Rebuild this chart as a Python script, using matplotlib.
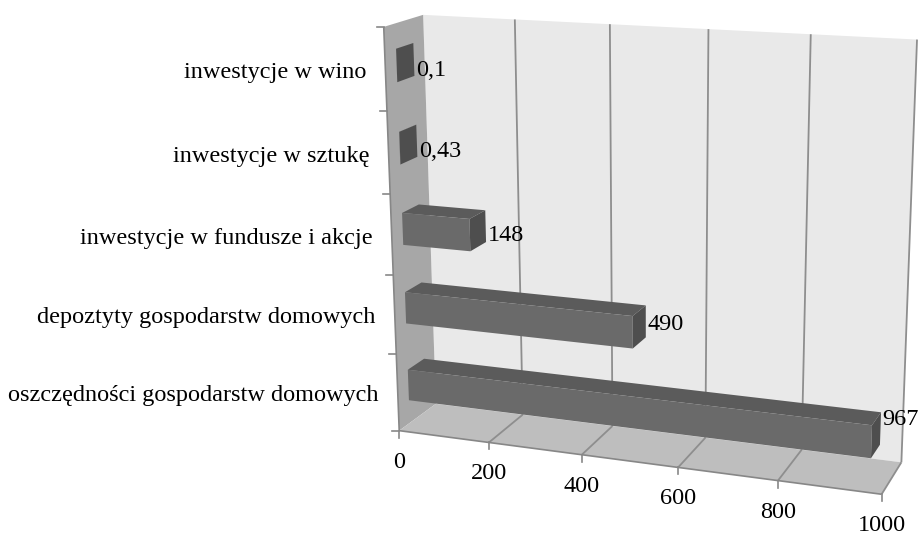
import numpy as np
import matplotlib.pyplot as plt
from matplotlib.patches import Polygon

categories = ['oszczędności gospodarstw domowych', 'depoztyty gospodarstw domowych',
              'inwestycje w fundusze i akcje', 'inwestycje w sztukę', 'inwestycje w wino']
values = [967, 490, 148, 0.43, 0.1]
value_labels = ['967', '490', '148', '0,43', '0,1']
x_ticks = [0, 200, 400, 600, 800, 1000]
x_max = 1000

# 3-D frame: (value, category slot, depth 0=front..1=back) -> canvas pixel
frame_world = np.array([
    (0, 5, 1), (200, 5, 1), (400, 5, 1), (600, 5, 1), (800, 5, 1), (1000, 5, 1),
    (0, 0, 1), (200, 0, 1), (400, 0, 1), (800, 0, 1), (1000, 0, 1),
    (0, 0, 0), (200, 0, 0), (400, 0, 0), (600, 0, 0), (800, 0, 0), (1000, 0, 0),
    (0, 5, 0), (0, 4, 0), (0, 3, 0), (0, 2, 0), (0, 1, 0),
], dtype=float)
frame_px = np.array([
    (423, 15), (515, 19), (610, 24), (708, 29), (811, 34), (917, 40),
    (436, 404), (523, 415), (613, 425), (800, 450), (902, 463),
    (399, 431), (489, 442), (582, 455), (678, 468), (778, 481), (882, 493),
    (384, 27), (387, 112), (390, 194), (393, 275), (396, 353),
], dtype=float)

U0, V0, S = 650.0, 250.0, 300.0


def fit_camera(world, px):
    rows = []
    for (X, Y, Z), (u, v) in zip(world, px):
        p = [X / x_max, Y / 5, Z, 1.0]
        u, v = (u - U0) / S, (v - V0) / S
        rows.append(p + [0] * 4 + [-u * c for c in p])
        rows.append([0] * 4 + p + [-v * c for c in p])
    _, _, vt = np.linalg.svd(np.array(rows))
    return vt[-1].reshape(3, 4)


P = fit_camera(frame_world, frame_px)


def proj(X, Y, Z):
    h = P @ np.array([X / x_max, Y / 5, Z, 1.0])
    return h[0] / h[2] * S + U0, h[1] / h[2] * S + V0


def face(ax, pts, fc, ec='none', lw=0.0, z=1):
    ax.add_patch(Polygon([proj(*p) for p in pts], closed=True, fc=fc, ec=ec,
                         lw=lw, zorder=z, joinstyle='round'))


def seg(ax, a, b, color='#878787', lw=1.2, z=2):
    pa, pb = proj(*a), proj(*b)
    ax.plot([pa[0], pb[0]], [pa[1], pb[1]], color=color, lw=lw, zorder=z,
            solid_capstyle='butt')


plt.rcParams['font.family'] = ['Liberation Serif', 'DejaVu Serif']
fs = 17.5
fig = plt.figure(figsize=(9.23, 5.36), dpi=100)
ax = fig.add_axes([0, 0, 1, 1])
ax.set_xlim(0, 923)
ax.set_ylim(536, 0)
ax.axis('off')

n = len(categories)
# walls and floor
face(ax, [(0, 0, 1), (x_max, 0, 1), (x_max, n, 1), (0, n, 1)], '#e9e9e9')
face(ax, [(0, 0, 0), (0, 0, 1), (0, n, 1), (0, n, 0)], '#a7a7a7')
face(ax, [(0, 0, 0), (x_max, 0, 0), (x_max, 0, 1), (0, 0, 1)], '#bebebe')

# gridlines on back wall and floor
for t in x_ticks[1:]:
    seg(ax, (t, 0, 1), (t, n, 1), color='#8e8e8e', lw=1.3)
    seg(ax, (t, 0, 0), (t, 0, 1), color='#8e8e8e', lw=1.3)

# axis lines and ticks
seg(ax, (0, 0, 0), (x_max, 0, 0))
seg(ax, (0, 0, 0), (0, n, 0))
for t in x_ticks:
    x, y = proj(t, 0, 0)
    ax.plot([x, x], [y, y + 7], color='#878787', lw=1.2, zorder=2)
    ax.text(x, y + 37, str(t), ha='center', va='baseline', fontsize=fs)
for k in range(n + 1):
    x, y = proj(0, k, 0)
    ax.plot([x - 7, x], [y, y], color='#878787', lw=1.2, zorder=2)

for k, name in enumerate(categories):
    x, y = proj(0, k + 0.5, 0)
    ax.text(x - 19, y + 9, name, ha='right', va='baseline', fontsize=fs)

# bars: front, top and end faces
z0, z1 = 0.28, 0.72
for k in range(n - 1, -1, -1):
    v = values[k]
    y0, y1 = k + 0.3, k + 0.7
    face(ax, [(0, y1, z0), (v, y1, z0), (v, y1, z1), (0, y1, z1)], '#5b5b5b', z=3)
    face(ax, [(0, y0, z0), (v, y0, z0), (v, y1, z0), (0, y1, z0)], '#6a6a6a', z=3)
    face(ax, [(v, y0, z0), (v, y0, z1), (v, y1, z1), (v, y1, z0)], '#4e4e4e', z=3)
    # labels ride higher on the longer bars
    x, y = proj(v, k + 0.5, z1)
    dy = 16.5 - 21 * (v / x_max) ** 1.3
    ax.text(x + 2, y + dy, value_labels[k], ha='left', va='baseline', fontsize=fs, zorder=4)

fig.savefig('out.png', dpi=100)
